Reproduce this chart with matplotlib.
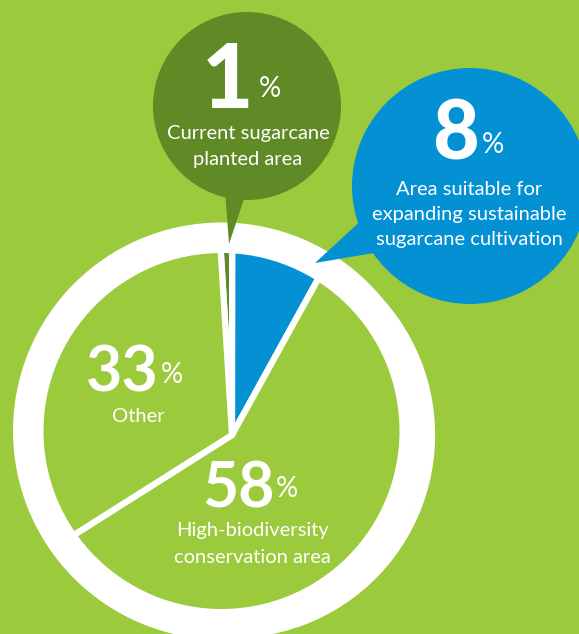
import matplotlib.pyplot as plt
from matplotlib.patches import Circle, Wedge, Polygon

H = 634
LIGHT = '#9bcb3c'
DARK = '#5f8a26'
BLUE = '#0391d4'

# data
shares = [1, 8, 58, 33]
captions = ['Current sugarcane\nplanted area',
            'Area suitable for\nexpanding sustainable\nsugarcane cultivation',
            'High-biodiversity\nconservation area',
            'Other']
slice_colors = [DARK, BLUE, LIGHT, LIGHT]

# layout (image px, y from top)
num_anchor = [(253, 108), (479, 160), (275, 507), (159, 392)]
pct_anchor = [(259, 97), (482, 153), (276, 497), (161, 383)]
num_size = [64, 58, 45, 45]
num_weight = ['black', 'black', 'bold', 'bold']
cap_anchor = [(248, 139), (469, 195), (252, 536), (138, 422)]
cap_step = [26, 25, 27, 26]

fig = plt.figure(figsize=(5.79, 6.34), dpi=100)
fig.patch.set_facecolor(LIGHT)
ax = fig.add_axes([0, 0, 1, 1])
ax.set_facecolor(LIGHT)

# pie, vertex sits a bit off the ring centre like in the original
ring_c = (221.5, H - 431)
clip = Circle(ring_c, 178, transform=ax.transData)
wedges, _ = ax.pie(shares, colors=slice_colors, startangle=93.5, counterclock=False,
                   center=(232, H - 435), radius=200, frame=True,
                   wedgeprops=dict(edgecolor='white', linewidth=4.5))
for w in wedges:
    w.set_clip_path(clip)

# white ring
ax.add_patch(Wedge(ring_c, 208.5, 0, 360, width=30.5, facecolor='white',
                   edgecolor='none', zorder=3))

# speech bubbles
ax.add_patch(Circle((247, H - 106), 94, facecolor=DARK, edgecolor='none', zorder=4))
ax.add_patch(Polygon([(225, H - 190), (247, H - 190), (229, H - 244)],
                     facecolor=DARK, edgecolor='none', zorder=4))
ax.add_patch(Circle((470, H - 186), 118, facecolor=BLUE, edgecolor='none', zorder=4))
ax.add_patch(Polygon([(315, H - 263), (366, H - 216), (380, H - 252)],
                     facecolor=BLUE, edgecolor='none', zorder=4))

fam = ['Lato', 'DejaVu Sans']

# texts
for i in range(len(shares)):
    nx, ny = num_anchor[i]
    ax.text(nx, H - ny, str(shares[i]), ha='right', va='baseline', color='white',
            fontsize=num_size[i], fontweight=num_weight[i], family=fam, zorder=5)
    px, py = pct_anchor[i]
    ax.text(px, H - py, '%', ha='left', va='baseline', color='white',
            fontsize=20, family=fam, zorder=5)
    cx, cy = cap_anchor[i]
    for j, line in enumerate(captions[i].split('\n')):
        ax.text(cx, H - cy - j * cap_step[i], line, ha='center', va='baseline',
                color='white', fontsize=14.5, family=fam, zorder=5)

ax.set_xlim(0, 579)
ax.set_ylim(0, H)
ax.set_aspect('equal')
ax.axis('off')

fig.savefig('out.png', dpi=100, facecolor=LIGHT)
